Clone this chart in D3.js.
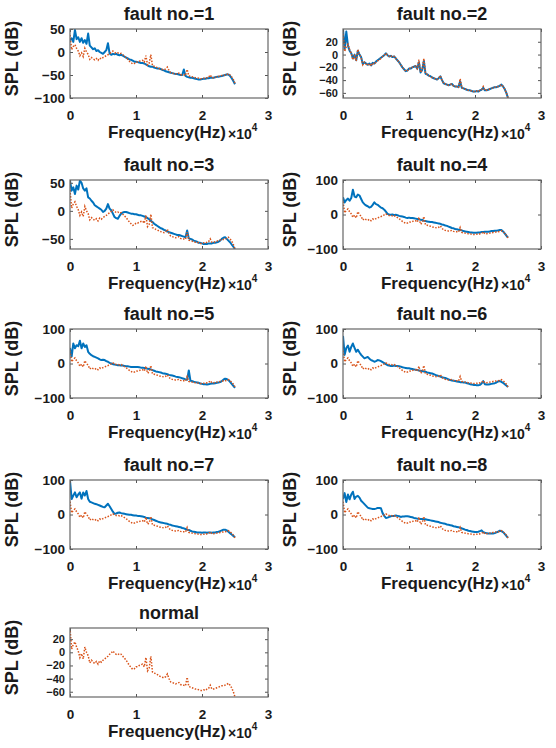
<!DOCTYPE html>
<html>
<head>
<meta charset="utf-8">
<script src="https://cdn.jsdelivr.net/npm/d3@7"></script>
<style>
	html, body { margin: 0; padding: 0; background: #fff; }
	svg text { font-family: "Liberation Sans", Arial, sans-serif; font-weight: bold; fill: #1a1a1a; }
</style>
</head>
<body>
<div id="chart"></div>
<script>

// frequency grid, Hz
const freqHz = [
	0, 250, 500, 750, 1000, 1250, 1500, 1750, 2000, 2250,
	2500, 2750, 3000, 3250, 3500, 3750, 4000, 4250, 4500, 4750,
	5000, 5250, 5500, 5750, 6000, 6250, 6500, 6750, 7000, 7250,
	7500, 7750, 8000, 8250, 8500, 8750, 9000, 9250, 9500, 9750,
	10000, 10250, 10500, 10750, 11000, 11250, 11500, 11750, 12000, 12250,
	12500, 12750, 13000, 13250, 13500, 13750, 14000, 14250, 14500, 14750,
	15000, 15250, 15500, 15750, 16000, 16250, 16500, 16750, 17000, 17250,
	17500, 17750, 18000, 18250, 18500, 18750, 19000, 19250, 19500, 19750,
	20000, 20250, 20500, 20750, 21000, 21250, 21500, 21750, 22000, 22250,
	22500, 22750, 23000, 23250, 23500, 23750, 24000, 24250, 24500, 24750,
	25000
];

// SPL (dB) of the normal machine, drawn in every panel
const normalSPL = [
	37, 5, 12, 16, 8, 2, -8, -2, -10, 8,
	0, -5, -16, -12, -15, -17, -14, -18, -13, -15,
	-12, -10, -8, -6, -3, -1, 2, -1, -3, -2,
	-4, -3, -6, -9, -12, -16, -20, -23, -26, -25,
	-22, -22, -20, -19, -18, -22, -8, -28, -24, -6,
	-30, -31, -33, -34, -36, -37, -38, -39, -37, -33,
	-40, -45, -46, -47, -48, -47, -46, -49, -50, -50,
	-51, -38, -52, -53, -54, -55, -56, -56, -57, -58,
	-58, -57, -58, -56, -55, -50, -56, -56, -55, -54,
	-53, -52, -51, -51, -50, -49, -47, -50, -54, -60,
	-68
];

const fault1SPL = [
	25, 30, 22, 48, 28, 32, 22, 30, 20, 26,
	18, 40, 14, 10, 6, 8, 2, 4, 0, -2,
	-4, 0, 4, 19, -3, -6, -4, -5, -4, -6,
	-7, -6, -8, -10, -12, -14, -16, -17, -19, -21,
	-21, -22, -23, -24, -24, -25, -27, -29, -31, -32,
	-32, -34, -35, -36, -36, -37, -39, -40, -42, -43,
	-44, -45, -46, -47, -48, -48, -49, -50, -50, -38,
	-52, -54, -55, -56, -56, -57, -58, -59, -60, -60,
	-59, -58, -58, -57, -57, -56, -56, -56, -55, -54,
	-54, -53, -52, -51, -50, -49, -49, -52, -57, -63,
	-70
];

const fault2SPL = [
	40, 8, 36, 14, 6, 2, -6, 0, -9, 6,
	0, -4, -15, -12, -14, -16, -14, -17, -13, -14,
	-11, -9, -7, -5, -3, -1, 2, -1, -3, -2,
	-4, -3, -6, -9, -12, -16, -20, -23, -26, -25,
	-22, -22, -20, -19, -18, -22, -12, -28, -24, -10,
	-30, -31, -33, -34, -36, -37, -38, -39, -37, -34,
	-40, -45, -46, -47, -48, -47, -46, -49, -50, -50,
	-51, -42, -52, -53, -54, -55, -56, -56, -57, -58,
	-58, -57, -58, -56, -55, -52, -56, -56, -55, -54,
	-53, -52, -51, -51, -50, -49, -47, -50, -54, -60,
	-68
];

const fault3SPL = [
	54, 36, 42, 30, 45, 38, 54, 50, 40, 36,
	40, 24, 22, 18, 15, 10, 8, 6, 4, 2,
	-2, 0, 4, 12, 4, 1, -5, -11, -13, -14,
	-9, -5, -3, -2, -2, -3, -4, -5, -5, -6,
	-6, -7, -8, -8, -9, -10, -11, -13, -15, -18,
	-20, -23, -25, -27, -29, -31, -32, -34, -35, -37,
	-38, -39, -40, -41, -42, -43, -43, -44, -45, -46,
	-47, -35, -49, -50, -51, -53, -54, -55, -57, -57,
	-58, -59, -59, -59, -58, -58, -58, -57, -57, -56,
	-55, -53, -50, -48, -47, -50, -53, -56, -60, -64,
	-68
];

const fault4SPL = [
	50, 35, 42, 46, 40, 48, 72, 52, 50, 58,
	55, 45, 35, 30, 26, 24, 20, 22, 28, 35,
	30, 28, 24, 20, 18, 14, 8, 2, 0, -1,
	0, -2, -1, -2, -4, -5, -6, -7, -9, -10,
	-9, -10, -10, -11, -12, -13, -14, -15, -16, -18,
	-19, -20, -21, -22, -22, -23, -24, -25, -26, -27,
	-29, -30, -32, -33, -35, -37, -39, -40, -42, -43,
	-44, -45, -46, -48, -49, -50, -51, -52, -52, -53,
	-53, -53, -52, -52, -51, -51, -50, -50, -50, -49,
	-48, -48, -47, -47, -46, -45, -45, -49, -55, -61,
	-67
];

const fault5SPL = [
	45, 20, 58, 44, 53, 50, 66, 44, 58, 48,
	53, 34, 28, 24, 21, 19, 17, 15, 12, 10,
	11, 10, 7, 5, 2, 0, -2, -3, -4, -5,
	-5, -6, -6, -7, -8, -8, -9, -10, -10, -10,
	-10, -10, -11, -12, -12, -13, -14, -15, -16, -17,
	-19, -21, -23, -24, -25, -26, -28, -29, -30, -31,
	-33, -34, -35, -36, -38, -39, -40, -41, -43, -44,
	-46, -47, -20, -50, -51, -53, -54, -55, -56, -58,
	-59, -60, -60, -61, -60, -59, -58, -58, -57, -56,
	-55, -54, -51, -47, -44, -45, -48, -53, -59, -65,
	-71
];

const fault6SPL = [
	80, 25, 45, 52, 34, 48, 58, 45, 34, 40,
	32, 25, 20, 15, 17, 19, 14, 10, 8, 5,
	7, 10, 9, 7, 4, 1, -2, -5, -6, -7,
	-7, -6, -7, -7, -8, -9, -11, -12, -13, -14,
	-14, -15, -16, -17, -18, -19, -20, -21, -22, -23,
	-24, -26, -27, -28, -29, -31, -33, -35, -36, -38,
	-40, -41, -42, -44, -46, -48, -49, -50, -51, -52,
	-53, -54, -54, -55, -55, -57, -58, -60, -61, -62,
	-62, -63, -63, -62, -58, -51, -60, -61, -61, -60,
	-59, -58, -57, -55, -52, -51, -53, -56, -60, -64,
	-68
];

const fault7SPL = [
	98, 45, 55, 64, 50, 58, 64, 46, 64, 55,
	68, 45, 37, 35, 33, 31, 30, 28, 26, 24,
	22, 21, 26, 31, 24, 16, 8, 2, 3, 5,
	6, 4, 3, 2, 1, 0, -1, -1, -2, -3,
	-3, -4, -4, -5, -6, -7, -9, -10, -11, -12,
	-14, -16, -18, -20, -22, -23, -24, -25, -26, -27,
	-29, -30, -32, -33, -34, -35, -36, -37, -39, -40,
	-42, -44, -45, -47, -49, -50, -51, -52, -52, -52,
	-53, -52, -52, -53, -52, -52, -53, -52, -52, -51,
	-50, -48, -46, -44, -44, -46, -50, -54, -58, -62,
	-66
];

const fault8SPL = [
	45, 62, 36, 58, 44, 58, 66, 45, 52, 54,
	49, 40, 35, 30, 25, 20, 18, 17, 16, 16,
	17, 19, 19, 18, 4, -4, -10, -9, -7, -5,
	-4, -4, -3, -4, -5, -7, -6, -6, -5, -5,
	-6, -7, -8, -10, -11, -12, -12, -13, -13, -14,
	-14, -15, -16, -17, -18, -19, -20, -21, -22, -24,
	-25, -26, -27, -29, -30, -31, -32, -34, -35, -36,
	-37, -38, -40, -42, -44, -45, -47, -48, -49, -50,
	-51, -51, -50, -48, -46, -51, -53, -54, -55, -55,
	-55, -55, -54, -52, -50, -47, -48, -51, -56, -62,
	-68
];

const panelTitles = ["fault no.=1", "fault no.=2", "fault no.=3", "fault no.=4",
	"fault no.=5", "fault no.=6", "fault no.=7", "fault no.=8", "normal"];
const faultSeries = [fault1SPL, fault2SPL, fault3SPL, fault4SPL,
	fault5SPL, fault6SPL, fault7SPL, fault8SPL, null];
const yDomains = [[-100, 50], [-68, 40], [-68, 55], [-100, 100],
	[-100, 100], [-100, 100], [-100, 100], [-100, 100], [-68, 37]];
const yTickValues = [[-100, -50, 0, 50], [-60, -40, -20, 0, 20], [-50, 0, 50], [-100, 0, 100],
	[-100, 0, 100], [-100, 0, 100], [-100, 0, 100], [-100, 0, 100], [-60, -40, -20, 0, 20]];
const xTickValues = [0, 10000, 20000, 30000];
const xDomain = [0, 30000];

const WIDTH = 556;
const HEIGHT = 748;
const PANEL_W = 198;
const PANEL_H = 69;
const COL_X = [70, 343];
const ROW_Y = [29, 180, 329, 480, 628];
const YLABEL_X = [12, 290];
const TICK_LEN = 3;
const BLUE = "#0072bd";
const ORANGE = "#d95319";

const svg = d3.select("#chart").append("svg")
	.attr("width", WIDTH)
	.attr("height", HEIGHT);

function drawPanel (i) {

	const col = i % 2;
	const left = COL_X[col];
	const top = ROW_Y[Math.floor(i / 2)];

	const x = d3.scaleLinear().domain(xDomain).range([0, PANEL_W]);
	const y = d3.scaleLinear().domain(yDomains[i]).range([PANEL_H, 0]);

	const g = svg.append("g")
		.attr("transform", "translate(" + left + "," + top + ")");

	g.append("clipPath")
		.attr("id", "clip" + i)
		.append("rect")
		.attr("width", PANEL_W)
		.attr("height", PANEL_H);

	const line = d3.line()
		.x(d => x(d[0]))
		.y(d => y(d[1]));

	const plot = g.append("g").attr("clip-path", "url(#clip" + i + ")");

	if (faultSeries[i]) {
		plot.append("path")
			.datum(d3.zip(freqHz, faultSeries[i]))
			.attr("fill", "none")
			.attr("stroke", BLUE)
			.attr("stroke-width", 2)
			.attr("stroke-linejoin", "round")
			.attr("d", line);
	}

	plot.append("path")
		.datum(d3.zip(freqHz, normalSPL))
		.attr("fill", "none")
		.attr("stroke", ORANGE)
		.attr("stroke-width", 1.5)
		.attr("stroke-dasharray", "1.5,1.5")
		.attr("d", line);

	// axes, ticks pointing inward like matlab
	const axisB = g.append("g")
		.attr("transform", "translate(0," + PANEL_H + ")")
		.call(d3.axisBottom(x)
			.tickValues(xTickValues)
			.tickSizeInner(-TICK_LEN)
			.tickSizeOuter(0)
			.tickPadding(12)
			.tickFormat(d => d / 10000));

	g.append("g")
		.call(d3.axisTop(x)
			.tickValues(xTickValues)
			.tickSizeInner(-TICK_LEN)
			.tickSizeOuter(0)
			.tickFormat(""));

	const axisL = g.append("g")
		.call(d3.axisLeft(y)
			.tickValues(yTickValues[i])
			.tickSizeInner(-TICK_LEN)
			.tickSizeOuter(0)
			.tickPadding(5));

	g.append("g")
		.attr("transform", "translate(" + PANEL_W + ",0)")
		.call(d3.axisRight(y)
			.tickValues(yTickValues[i])
			.tickSizeInner(-TICK_LEN)
			.tickSizeOuter(0)
			.tickFormat(""));

	g.selectAll(".domain").remove();
	g.selectAll(".tick line").attr("stroke", "#555");

	// the 20 dB panels have tightly packed labels
	const dense = yTickValues[i].length > 4;
	[axisB, axisL].forEach(a => {
		a.selectAll("text")
			.attr("fill", "#1a1a1a")
			.style("font-size", (a === axisL && dense) ? "11px" : "13.5px")
			.style("font-family", "\"Liberation Sans\", Arial, sans-serif")
			.style("font-weight", "bold");
	});

	g.append("rect")
		.attr("width", PANEL_W)
		.attr("height", PANEL_H)
		.attr("fill", "none")
		.attr("stroke", "#666")
		.attr("stroke-width", 1.2);

	g.append("text")
		.attr("x", PANEL_W / 2)
		.attr("y", -9)
		.attr("text-anchor", "middle")
		.style("font-size", "18px")
		.text(panelTitles[i]);

	g.append("text")
		.attr("x", PANEL_W / 2 - 2)
		.attr("y", PANEL_H + 40)
		.attr("text-anchor", "middle")
		.style("font-size", "17px")
		.text("Frequency(Hz)");

	const expo = g.append("text")
		.attr("x", PANEL_W - 40)
		.attr("y", PANEL_H + 41)
		.style("font-size", "14px");
	expo.append("tspan").text("\u00d710");
	expo.append("tspan")
		.attr("dy", -8)
		.style("font-size", "10px")
		.text("4");

	svg.append("text")
		.attr("transform", "translate(" + YLABEL_X[col] + "," + (top + PANEL_H / 2 - 5) + ") rotate(-90)")
		.attr("text-anchor", "middle")
		.attr("dy", "0.35em")
		.style("font-size", "18px")
		.text("SPL (dB)");
}

panelTitles.forEach((t, i) => drawPanel(i));

</script>
</body>
</html>
